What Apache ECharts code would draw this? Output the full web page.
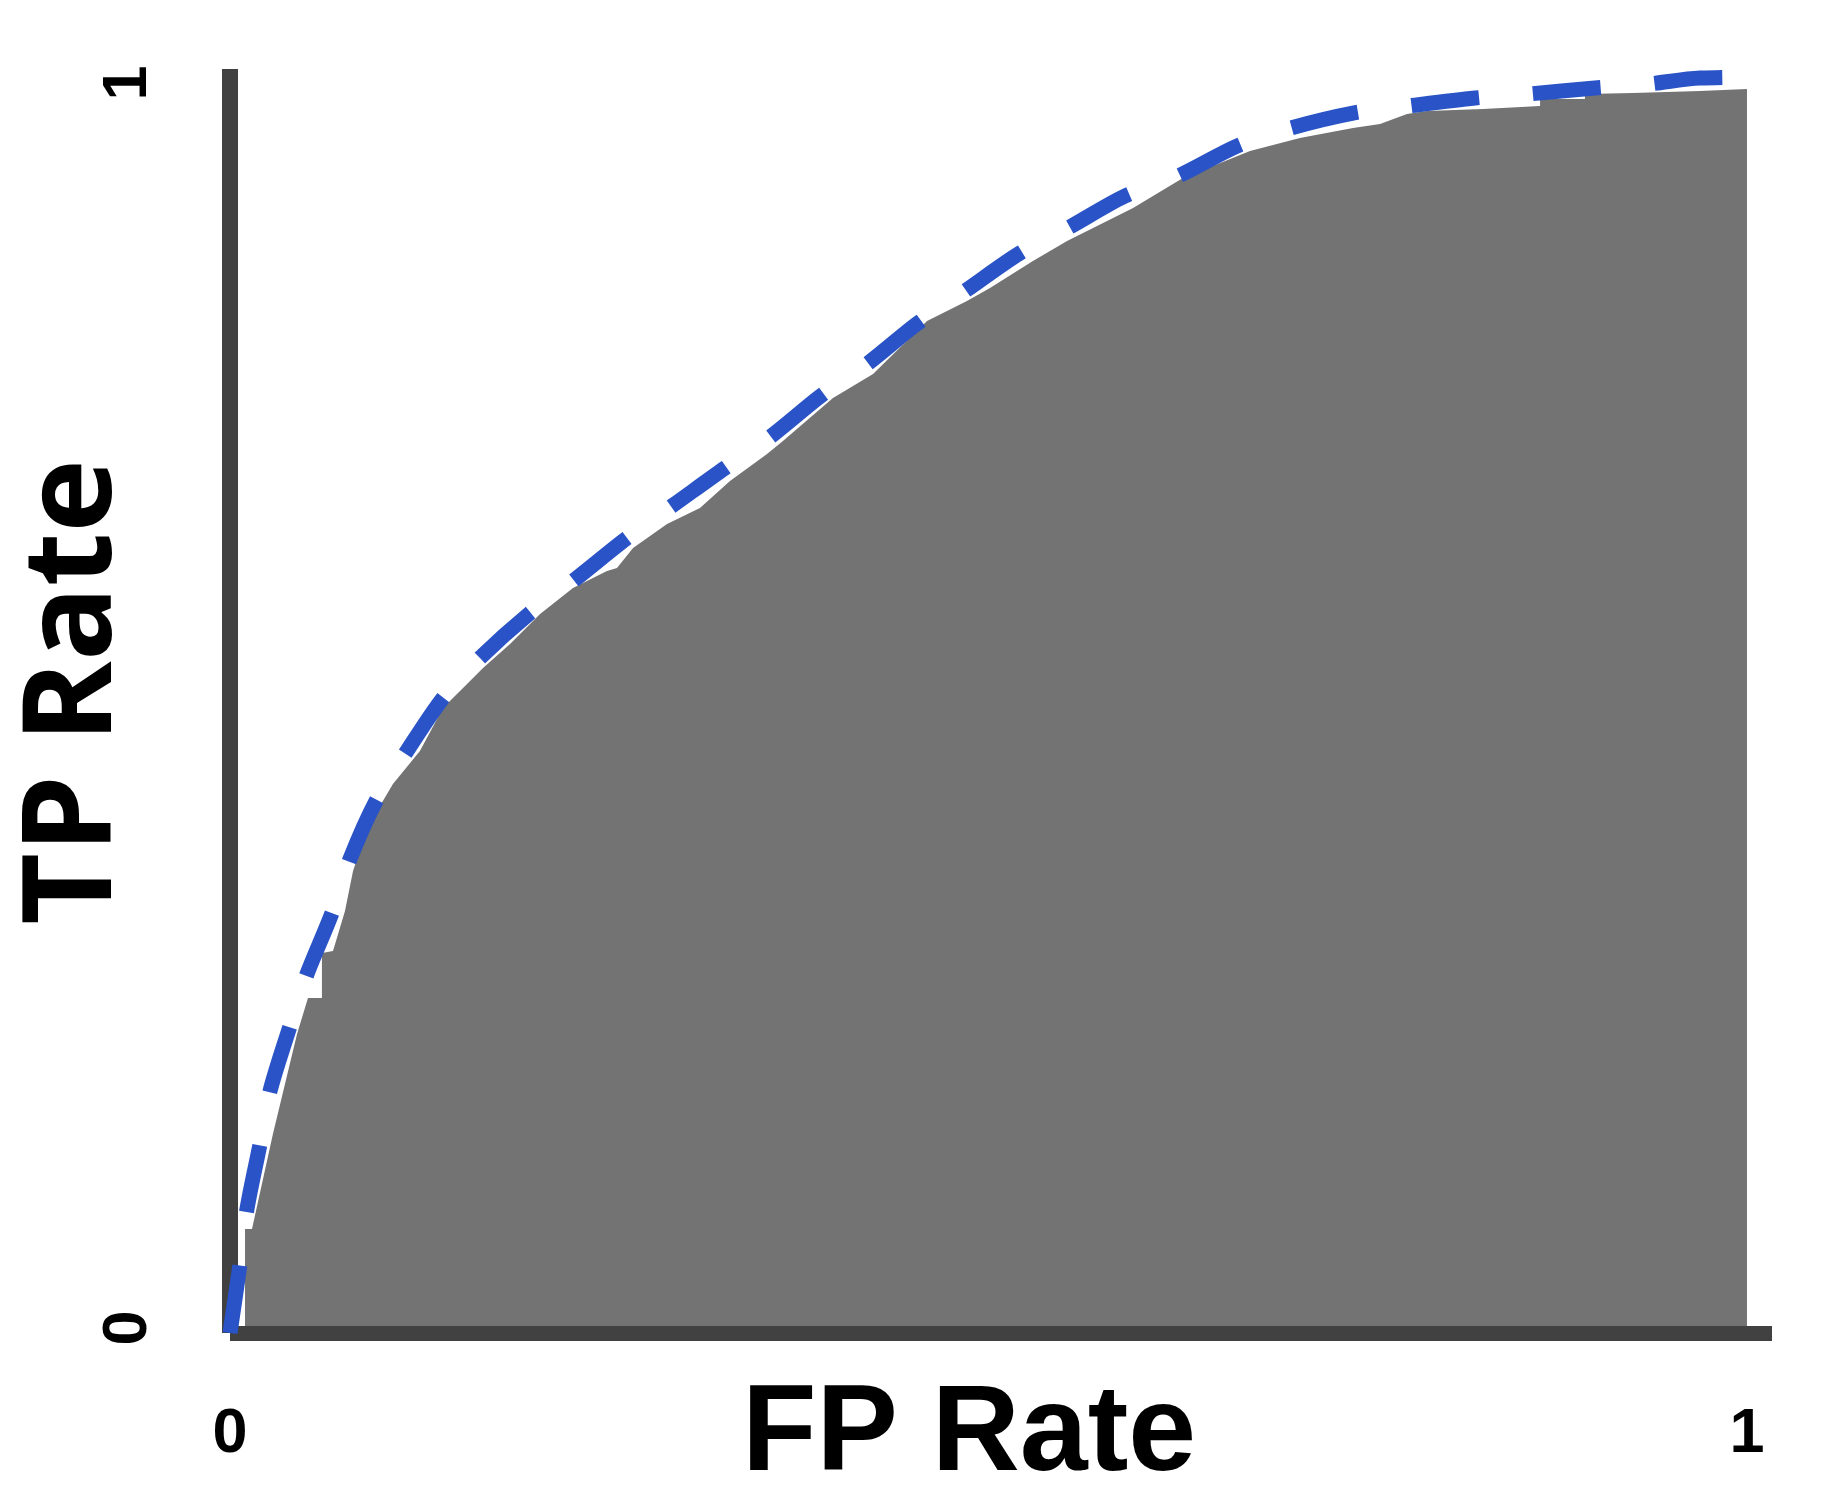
<!DOCTYPE html>
<html><head><meta charset="utf-8">
<script src="https://cdn.jsdelivr.net/npm/echarts@6/dist/echarts.min.js"></script>
<style>html,body{margin:0;padding:0;background:#fff;}#chart{width:1824px;height:1508px;}</style>
</head><body><div id="chart"></div>
<script>
const xTickValues = [0, 1];
const xTickLabels = ['0', '1'];
const yTickValues = [0, 1];
const yTickLabels = ['0', '1'];
const xAxisName = 'FP Rate';
const yAxisName = 'TP Rate';

// Gray ROC area (FP rate, TP rate)
const rocFpr = [0.0099,0.0099,0.0145,0.0283,0.0442,0.0514,0.0606,0.0606,0.0679,0.0758,0.0811,0.0877,0.0969,0.1074,0.1252,0.1404,0.1668,0.1846,0.2044,0.2261,0.2485,0.2551,0.2657,0.2881,0.3098,0.3296,0.3540,0.3645,0.3975,0.4239,0.4595,0.4858,0.5010,0.5293,0.5518,0.5953,0.6282,0.6724,0.7053,0.7403,0.7581,0.7759,0.7891,0.8260,0.8636,0.8636,0.8932,0.8932,0.9248,0.9690,1.0,1.0];
const rocTpr = [0,0.0835,0.0835,0.1598,0.2402,0.2691,0.2691,0.3052,0.3068,0.3390,0.3711,0.3952,0.4193,0.4410,0.4675,0.5020,0.5341,0.5534,0.5775,0.5984,0.6120,0.6145,0.6305,0.6498,0.6627,0.6843,0.7060,0.7165,0.7510,0.7703,0.8129,0.8289,0.8394,0.8610,0.8771,0.9036,0.9277,0.9494,0.9598,0.9679,0.9711,0.9791,0.9815,0.9831,0.9855,0.9912,0.9912,0.9952,0.9960,0.9976,0.9992,0];

// Blue dashed reference curve
const refFpr = [0,0.0066,0.0112,0.0198,0.0264,0.0396,0.0508,0.0672,0.0791,0.0969,0.1167,0.1404,0.1648,0.1978,0.2261,0.2617,0.2914,0.3263,0.3560,0.3902,0.4199,0.4535,0.4845,0.5208,0.5524,0.5900,0.6249,0.6638,0.6968,0.7403,0.7759,0.8207,0.8556,0.8998,0.9347,0.9690,1.0152];
const refTpr = [0,0.0554,0.0996,0.1518,0.1944,0.2466,0.2884,0.3373,0.3807,0.4289,0.4675,0.5100,0.5422,0.5783,0.6040,0.6386,0.6643,0.6948,0.7197,0.7534,0.7783,0.8112,0.8369,0.8675,0.8876,0.9133,0.9293,0.9534,0.9671,0.9799,0.9855,0.9920,0.9952,1.0000,1.0032,1.0080,1.0088];

const rocData = rocFpr.map((x, i) => [x, rocTpr[i]]);
const refData = refFpr.map((x, i) => [x, refTpr[i]]);

const chart = echarts.init(document.getElementById('chart'), null, {renderer: 'canvas'});
const axisColor = '#414141';
const tickFont = {fontSize: 63, fontWeight: 'bold', color: '#000', fontFamily: 'Liberation Sans, Arial, sans-serif'};
chart.setOption({
  animation: false,
  backgroundColor: '#ffffff',
  grid: {left: 230, right: 52, top: 69, bottom: 175, containLabel: false, outerBoundsMode: 'none'},
  xAxis: {
    type: 'value', min: 0, max: 1.0165, z: 2,
    name: xAxisName, nameLocation: 'middle', nameGap: 42, nameMoveOverlap: false,
    nameTextStyle: {fontSize: 122, fontWeight: 'bold', color: '#000', fontFamily: 'Liberation Sans, Arial, sans-serif', padding: [0, 64, 0, 0], verticalAlign: 'top'},
    axisLine: {show: true, onZero: false, lineStyle: {color: axisColor, width: 15, cap: 'butt'}},
    axisTick: {show: false},
    splitLine: {show: false},
    axisLabel: Object.assign({customValues: xTickValues, margin: 70,
      formatter: v => xTickLabels[xTickValues.indexOf(v)]}, tickFont)
  },
  yAxis: {
    type: 'value', min: 0, max: 1.0153, z: 2,
    name: yAxisName, nameLocation: 'middle', nameGap: 92, nameRotate: 90, nameMoveOverlap: false,
    nameTextStyle: {fontSize: 124, fontWeight: 'bold', color: '#000', fontFamily: 'Open Sans, Liberation Sans, sans-serif', padding: [0, 0, 0, 18]},
    axisLine: {show: true, onZero: false, lineStyle: {color: axisColor, width: 16, cap: 'butt'}},
    axisTick: {show: false},
    splitLine: {show: false},
    axisLabel: Object.assign({customValues: yTickValues, margin: 70, rotate: 90, padding: [0, 0, 0, 10],
      formatter: v => yTickLabels[yTickValues.indexOf(v)]}, tickFont)
  },
  series: [
    {
      type: 'line', data: rocData, z: 1, symbol: 'none', showSymbol: false,
      lineStyle: {width: 0}, areaStyle: {color: '#737373', opacity: 1},
      itemStyle: {color: '#737373'}, silent: true
    },
    {
      type: 'line', data: refData, z: 3, symbol: 'none', showSymbol: false,
      smooth: 0.3, clip: false,
      lineStyle: {color: '#2953c6', width: 15, type: [68, 54], cap: 'butt'},
      itemStyle: {color: '#2953c6'}, silent: true
    }
  ]
});
</script></body></html>
